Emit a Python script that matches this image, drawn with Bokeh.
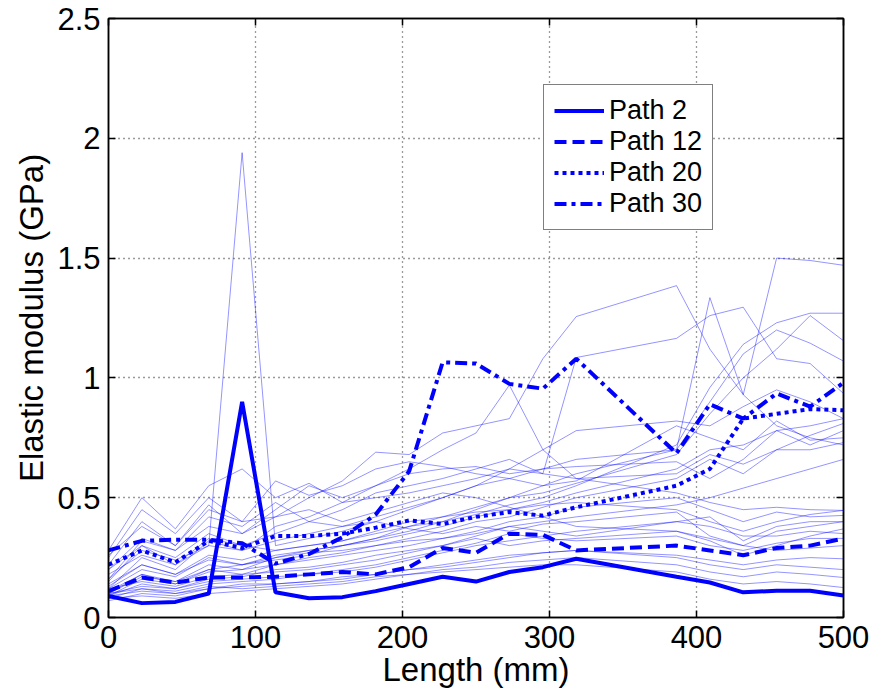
from bokeh.plotting import figure
from bokeh.models import Range1d, FixedTicker, LinearAxis, Legend, LegendItem
from bokeh.embed import file_html
from bokeh.resources import INLINE

# ---------------- data ----------------
x_mm = [0, 22.7, 45.5, 68.2, 90.9, 113.6, 136.4, 159.1, 181.8, 204.5, 227.3,
        250.0, 272.7, 295.5, 318.2, 386.4, 409.1, 431.8, 454.5, 477.3, 500]

path2 = [0.09, 0.06, 0.065, 0.10, 0.90, 0.105, 0.08, 0.085, 0.11, 0.14, 0.17,
         0.15, 0.19, 0.21, 0.245, 0.17, 0.146, 0.105, 0.112, 0.112, 0.092]
path12 = [0.11, 0.167, 0.146, 0.167, 0.167, 0.17, 0.18, 0.19, 0.18, 0.21, 0.29,
          0.27, 0.35, 0.345, 0.28, 0.30, 0.28, 0.26, 0.29, 0.30, 0.33]
path20 = [0.22, 0.28, 0.23, 0.32, 0.29, 0.34, 0.34, 0.35, 0.375, 0.405, 0.39,
          0.42, 0.44, 0.425, 0.46, 0.55, 0.62, 0.83, 0.85, 0.87, 0.865]
path30 = [0.28, 0.32, 0.325, 0.325, 0.31, 0.225, 0.265, 0.335, 0.43, 0.61, 1.065,
          1.06, 0.975, 0.955, 1.08, 0.685, 0.89, 0.83, 0.935, 0.88, 0.98]

other_paths = [
    [0.18, 0.26, 0.22, 0.30, 1.94, 0.30, 0.33, 0.36, 0.40, 0.45, 0.50, 0.55, 0.62, 0.70, 0.78, 0.82, 0.80, 0.88, 0.95, 0.90, 0.83],
    [0.20, 0.30, 0.25, 0.35, 0.30, 0.28, 0.30, 0.32, 0.35, 0.38, 0.40, 0.45, 0.50, 0.55, 0.60, 0.70, 1.335, 0.93, 1.50, 1.49, 1.47],
    [0.22, 0.40, 0.30, 0.45, 0.40, 0.42, 0.50, 0.57, 0.69, 0.68, 0.77, 0.80, 0.83, 1.08, 1.256, 1.385, 1.12, 0.93, 0.80, 0.75, 0.72],
    [0.15, 0.30, 0.22, 0.33, 0.30, 0.35, 0.40, 0.45, 0.52, 0.55, 0.58, 0.62, 0.66, 0.60, 1.085, 1.165, 1.26, 1.295, 1.08, 1.06, 0.935],
    [0.12, 0.25, 0.20, 0.32, 0.28, 0.38, 0.42, 0.48, 0.55, 0.62, 0.70, 0.77, 0.97, 0.70, 0.58, 0.52, 0.48, 0.45, 0.46, 0.45, 0.447],
    [0.10, 0.18, 0.15, 0.22, 0.20, 0.25, 0.28, 0.30, 0.33, 0.36, 0.40, 0.43, 0.47, 0.50, 0.55, 0.72, 0.96, 1.14, 1.23, 1.27, 1.27],
    [0.14, 0.22, 0.18, 0.26, 0.24, 0.28, 0.30, 0.32, 0.36, 0.40, 0.42, 0.46, 0.50, 0.52, 0.56, 0.68, 0.85, 1.00, 1.12, 1.26, 1.155],
    [0.16, 0.28, 0.24, 0.30, 0.28, 0.32, 0.35, 0.38, 0.42, 0.46, 0.50, 0.55, 0.58, 0.62, 0.66, 0.70, 0.90, 1.10, 1.20, 1.145, 1.07],
    [0.12, 0.20, 0.17, 0.25, 0.22, 0.26, 0.28, 0.30, 0.32, 0.35, 0.38, 0.42, 0.45, 0.48, 0.52, 0.62, 0.70, 0.72, 0.78, 0.80, 0.83],
    [0.09, 0.16, 0.14, 0.20, 0.18, 0.22, 0.25, 0.27, 0.30, 0.33, 0.36, 0.40, 0.42, 0.46, 0.50, 0.58, 0.66, 0.60, 0.70, 0.76, 0.81],
    [0.20, 0.33, 0.28, 0.38, 0.35, 0.45, 0.55, 0.50, 0.55, 0.60, 0.62, 0.63, 0.60, 0.62, 0.63, 0.65, 0.58, 0.66, 0.78, 0.72, 0.78],
    [0.25, 0.45, 0.35, 0.50, 0.40, 0.57, 0.51, 0.55, 0.62, 0.65, 0.63, 0.60, 0.58, 0.55, 0.57, 0.80, 0.75, 0.70, 0.82, 0.74, 0.75],
    [0.28, 0.50, 0.37, 0.55, 0.62, 0.50, 0.56, 0.48, 0.50, 0.52, 0.55, 0.58, 0.62, 0.60, 0.58, 0.60, 0.68, 0.64, 0.70, 0.70, 0.73],
    [0.13, 0.22, 0.18, 0.24, 0.22, 0.25, 0.27, 0.28, 0.30, 0.32, 0.33, 0.35, 0.38, 0.40, 0.42, 0.47, 0.50, 0.54, 0.58, 0.62, 0.66],
    [0.10, 0.17, 0.15, 0.20, 0.22, 0.24, 0.26, 0.30, 0.33, 0.38, 0.42, 0.44, 0.45, 0.47, 0.48, 0.45, 0.40, 0.36, 0.40, 0.43, 0.447],
    [0.11, 0.18, 0.14, 0.19, 0.20, 0.22, 0.24, 0.26, 0.28, 0.30, 0.33, 0.36, 0.40, 0.42, 0.46, 0.50, 0.45, 0.40, 0.44, 0.42, 0.426],
    [0.09, 0.14, 0.12, 0.16, 0.17, 0.20, 0.21, 0.23, 0.26, 0.28, 0.30, 0.34, 0.38, 0.36, 0.34, 0.40, 0.42, 0.32, 0.38, 0.40, 0.40],
    [0.08, 0.12, 0.11, 0.14, 0.15, 0.16, 0.18, 0.19, 0.21, 0.24, 0.27, 0.30, 0.32, 0.34, 0.36, 0.40, 0.38, 0.34, 0.34, 0.36, 0.35],
    [0.10, 0.13, 0.12, 0.15, 0.16, 0.17, 0.18, 0.20, 0.22, 0.25, 0.28, 0.31, 0.35, 0.33, 0.32, 0.34, 0.30, 0.28, 0.31, 0.33, 0.33],
    [0.12, 0.15, 0.13, 0.17, 0.18, 0.19, 0.20, 0.22, 0.24, 0.27, 0.30, 0.33, 0.30, 0.32, 0.33, 0.36, 0.33, 0.30, 0.28, 0.29, 0.30],
    [0.07, 0.10, 0.09, 0.12, 0.13, 0.14, 0.15, 0.16, 0.18, 0.20, 0.22, 0.24, 0.26, 0.27, 0.28, 0.26, 0.24, 0.22, 0.24, 0.25, 0.245],
    [0.09, 0.11, 0.10, 0.12, 0.14, 0.14, 0.15, 0.17, 0.18, 0.20, 0.21, 0.23, 0.25, 0.27, 0.28, 0.25, 0.22, 0.20, 0.22, 0.21, 0.20],
    [0.08, 0.09, 0.08, 0.10, 0.11, 0.12, 0.13, 0.14, 0.16, 0.18, 0.20, 0.21, 0.23, 0.24, 0.25, 0.22, 0.19, 0.17, 0.19, 0.18, 0.167],
    [0.10, 0.12, 0.10, 0.13, 0.12, 0.13, 0.14, 0.15, 0.17, 0.18, 0.19, 0.20, 0.21, 0.22, 0.22, 0.19, 0.16, 0.14, 0.15, 0.14, 0.125],
    [0.16, 0.32, 0.28, 0.42, 0.38, 0.48, 0.40, 0.38, 0.40, 0.37, 0.35, 0.38, 0.36, 0.39, 0.40, 0.44, 0.34, 0.30, 0.36, 0.38, 0.40],
    [0.26, 0.38, 0.30, 0.47, 0.35, 0.42, 0.45, 0.40, 0.44, 0.48, 0.52, 0.50, 0.46, 0.42, 0.38, 0.36, 0.32, 0.26, 0.30, 0.34, 0.37],
]

x_ticks = [0, 100, 200, 300, 400, 500]
y_ticks = [0, 0.5, 1, 1.5, 2, 2.5]
y_tick_labels = ["0", "0.5", "1", "1.5", "2", "2.5"]
legend_labels = ["Path 2", "Path 12", "Path 20", "Path 30"]

# ---------------- figure ----------------
FONT = "Liberation Sans"
BLUE = "#0000ff"

p = figure(width=876, height=699, x_range=Range1d(0, 500), y_range=Range1d(0, 2.5),
           output_backend="svg", toolbar_location=None,
           min_border_left=108, min_border_right=33, min_border_top=18, min_border_bottom=82)
p.background_fill_color = "white"
p.border_fill_color = "white"
p.outline_line_color = "black"
p.outline_line_width = 1.5
p.outline_line_alpha = 1

for ax in (p.xaxis[0], p.yaxis[0]):
    ax.axis_line_color = "black"
    ax.axis_line_width = 1.5
    ax.major_tick_in = 7
    ax.major_tick_out = 0
    ax.major_tick_line_width = 1.5
    ax.minor_tick_line_color = None
    ax.major_label_text_font = FONT
    ax.major_label_text_font_size = "31px"
    ax.major_label_text_color = "black"
    ax.axis_label_text_font = FONT
    ax.axis_label_text_font_size = "33px"
    ax.axis_label_text_font_style = "normal"
    ax.axis_label_text_color = "black"

p.xaxis.ticker = FixedTicker(ticks=x_ticks)
p.yaxis.ticker = FixedTicker(ticks=y_ticks)
p.yaxis.major_label_overrides = {t: l for t, l in zip(y_ticks, y_tick_labels)}
p.xaxis.axis_label = "Length (mm)"
p.yaxis.axis_label = "Elastic modulus (GPa)"
p.xaxis.major_label_standoff = 8
p.xaxis.axis_label_standoff = 0
p.yaxis.major_label_standoff = 8
p.yaxis.axis_label_standoff = 4

# mirrored tick marks on top and right
for loc, ticks in (("above", x_ticks), ("right", y_ticks)):
    ax = LinearAxis(ticker=FixedTicker(ticks=ticks),
                    major_label_overrides={t: "" for t in ticks},
                    major_tick_in=7, major_tick_out=0, major_tick_line_width=1.5,
                    minor_tick_line_color=None, axis_line_color="black",
                    axis_line_width=1.5, major_label_standoff=0,
                    major_label_text_font_size="1px")
    p.add_layout(ax, loc)

p.xgrid.ticker = FixedTicker(ticks=x_ticks)
p.ygrid.ticker = FixedTicker(ticks=y_ticks)
p.grid.grid_line_color = "#222222"
p.grid.grid_line_dash = "1 4"
p.grid.grid_line_width = 1.3
p.grid.grid_line_alpha = 0.9

# thin paths
p.multi_line(xs=[x_mm] * len(other_paths), ys=other_paths,
             line_color=BLUE, line_alpha=0.42, line_width=1)

# highlighted paths
r2 = p.line(x_mm, path2, line_color=BLUE, line_width=4)
r12 = p.line(x_mm, path12, line_color=BLUE, line_width=4, line_dash="12 6")
r20 = p.line(x_mm, path20, line_color=BLUE, line_width=4, line_dash="4 4")
r30 = p.line(x_mm, path30, line_color=BLUE, line_width=4, line_dash="12 5 4 5")

legend = Legend(items=[LegendItem(label=l, renderers=[r])
                       for l, r in zip(legend_labels, [r2, r12, r20, r30])],
                location=(435, 387))
legend.label_text_font = FONT
legend.label_text_font_size = "27px"
legend.label_text_color = "black"
legend.glyph_width = 50
legend.glyph_height = 29
legend.label_height = 29
legend.label_standoff = 5
legend.spacing = 0
legend.padding = 10
legend.margin = 0
legend.border_line_color = "black"
legend.border_line_width = 1.5
legend.background_fill_alpha = 1
p.add_layout(legend)

open("out.html", "w").write(file_html(p, INLINE))
